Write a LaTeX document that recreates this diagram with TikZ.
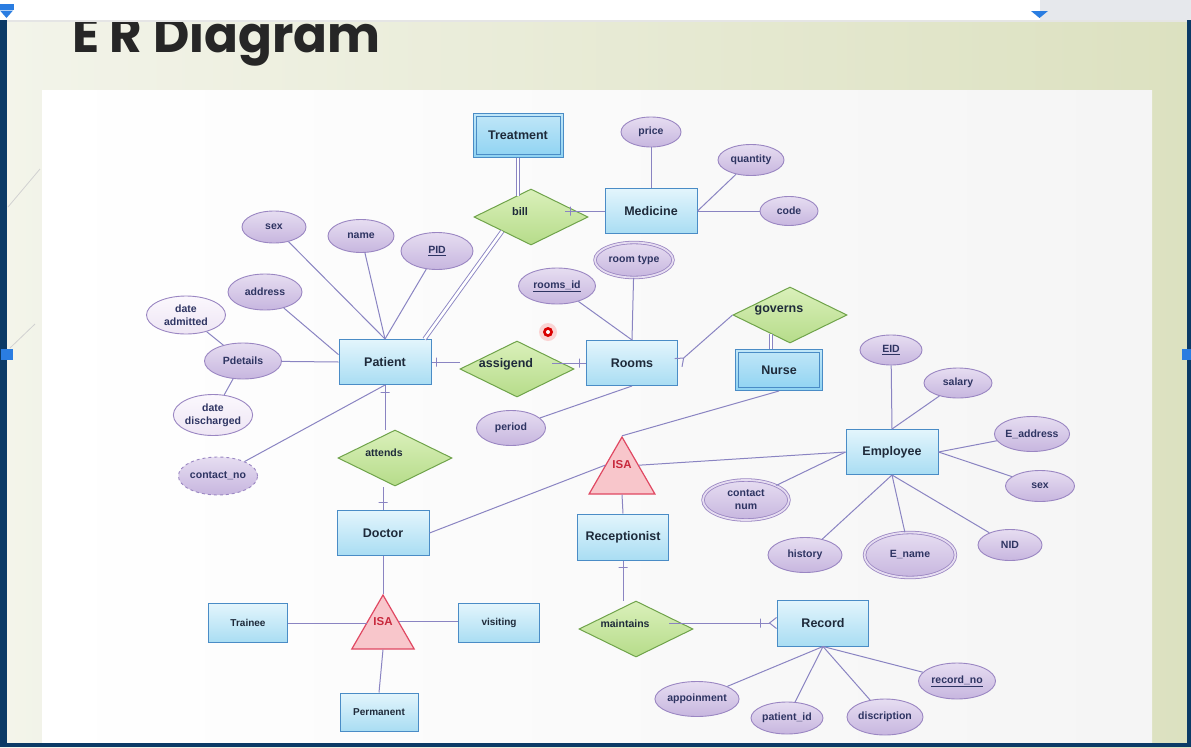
\documentclass[tikz,border=0pt]{standalone}
\usepackage{fontspec}
\setmainfont{Liberation Sans}
\newfontfamily\titlefont{Poppins}
\usetikzlibrary{shapes.geometric,arrows.meta,calc}
\definecolor{slideL}{HTML}{F3F4EA}
\definecolor{slideR}{HTML}{DCE1C0}
\definecolor{navy}{HTML}{0B3A66}
\definecolor{markblue}{HTML}{2A7DE1}
\definecolor{barGray}{HTML}{E6E8EC}
\definecolor{titleink}{HTML}{262626}
\definecolor{enttop}{HTML}{E3F5FC}
\definecolor{entbot}{HTML}{A9DDF3}
\definecolor{entline}{HTML}{4A8CC6}
\definecolor{weakfill}{HTML}{8FD3F2}
\definecolor{reltop}{HTML}{DAF0BA}
\definecolor{relbot}{HTML}{B6DC8A}
\definecolor{relline}{HTML}{6FA34A}
\definecolor{attrtop}{HTML}{E6DDF1}
\definecolor{attrbot}{HTML}{C7B6DF}
\definecolor{attrline}{HTML}{9A86C2}
\definecolor{paletop}{HTML}{FBF8FD}
\definecolor{palebot}{HTML}{EEE5F4}
\definecolor{isafill}{HTML}{F8C6CB}
\definecolor{isaline}{HTML}{E04862}
\definecolor{isatext}{HTML}{C8283C}
\definecolor{linkcol}{HTML}{8A84C2}
\definecolor{inktext}{HTML}{1E2A3A}
\definecolor{attrtext}{HTML}{2E3462}

\begin{document}
\begin{tikzpicture}[x=1pt, y=-1pt,
    entity/.style={rectangle, draw=entline, line width=1pt, top color=enttop, bottom color=entbot, text=inktext, font=\fontsize{12.5}{14}\selectfont\bfseries, minimum width=92pt, minimum height=45pt, inner sep=0pt},
    weak/.style={entity, top color=weakfill!55!white, bottom color=weakfill,
      path picture={\draw[entline, line width=0.9pt] ([shift={(3pt,-3pt)}]path picture bounding box.north west) rectangle ([shift={(-3pt,3pt)}]path picture bounding box.south east);}},
    smallent/.style={entity, font=\fontsize{10}{12}\selectfont\bfseries, minimum width=79pt, minimum height=39pt},
    attr/.style={ellipse, draw=attrline, line width=0.9pt, top color=attrtop, bottom color=attrbot, text=attrtext, font=\fontsize{10.5}{13}\selectfont\bfseries, inner sep=0pt, align=center},
    pale/.style={attr, top color=paletop, bottom color=palebot},
    multi/.style={attr, double=attrtop, double distance=1.8pt, line width=0.8pt},
    derived/.style={attr, dashed},
    rel/.style={diamond, draw=relline, line width=1pt, top color=reltop, bottom color=relbot, minimum width=114pt, minimum height=56pt, inner sep=0pt},
    rellbl/.style={xshift=-11pt, yshift=5pt, text=inktext, font=\fontsize{11}{13}\selectfont\bfseries},
    isa/.style={regular polygon, regular polygon sides=3, draw=isaline, line width=1.2pt, fill=isafill, minimum size=76pt, inner sep=0pt},
    isalbl/.style={yshift=10pt, text=isatext, font=\fontsize{11.5}{13}\selectfont\bfseries},
    link/.style={draw=linkcol, line width=1pt},
    twin/.style={draw=linkcol, line width=0.9pt, double=white, double distance=2.6pt},
    tick/.style={sloped, draw=linkcol, line width=1pt, inner sep=0pt, minimum width=0pt, minimum height=9pt},
    crow/.style={-{Straight Barb[reversed, length=7pt, width=11pt, line width=1pt]}}
  ]
  \useasboundingbox (0,0) rectangle (1191,747);

  % slide and panel
  \shade[left color=slideL, right color=slideR] (0,0) rectangle (1191,747);
  \shade[left color=white, middle color=white, right color=black!4] (42,90) rectangle (1152,745);
  \draw[black!18, line width=0.8pt] (8,207) -- (40,169);
  \draw[black!18, line width=0.8pt] (10,348) -- (35,324);

  % title, partly hidden by the bar
  \node[anchor=base west, inner sep=0pt, text=titleink, font=\titlefont\bfseries\fontsize{50}{58}\selectfont] (title) at (72,52) {E R Diagram};

  % window frame
  \fill[white] (0,0) rectangle (1040,20);
  \fill[barGray] (1040,0) rectangle (1191,20);
  \fill[black!10] (0,20) rectangle (1191,21.5);
  \fill[navy] (0,20) rectangle (6.7,747);
  \fill[navy] (1187,20) rectangle (1191,747);
  \fill[navy] (0,743) rectangle (1191,747);
  \fill[markblue] (0,4) rectangle (14,9.5);
  \fill[markblue] (0,10.5) -- (13,10.5) -- (6.5,18) -- cycle;
  \fill[markblue] (1031,11) -- (1048,11) -- (1039.5,18) -- cycle;
  \fill[markblue] (1.3,349) rectangle (13,360);
  \fill[markblue] (1182,349) rectangle (1191,360);

  % entities
  \node[weak, minimum width=90pt, minimum height=44pt] (treat) at (518,135) {Treatment};
  \node[entity] (med) at (651,211) {Medicine};
  \node[entity] (pat) at (385,362) {Patient};
  \node[entity, minimum width=91pt] (room) at (632,363) {Rooms};
  \node[weak, minimum width=87pt, minimum height=41pt] (nurse) at (779,370) {Nurse};
  \node[entity] (emp) at (892,452) {Employee};
  \node[entity] (doc) at (383,533) {Doctor};
  \node[entity, minimum width=91pt, minimum height=46pt] (recep) at (623,537) {Receptionist};
  \node[smallent] (trainee) at (248,623) {Trainee};
  \node[smallent, minimum width=81pt] (visit) at (499,623) {visiting};
  \node[smallent, minimum width=78pt, minimum height=38pt] (perm) at (379,712) {Permanent};
  \node[entity, minimum width=91pt, minimum height=46pt] (rec) at (823,623) {Record};

  % relationships
  \node[rel, label={[rellbl]center:bill}] (bill) at (531,217) {};
  \node[rel, label={[rellbl, font=\fontsize{12.5}{14}\selectfont\bfseries]center:assigend}] (assign) at (517,369) {};
  \node[rel, label={[rellbl, font=\fontsize{10.5}{12}\selectfont\bfseries]center:attends}] (attend) at (395,458) {};
  \node[rel, label={[rellbl, font=\fontsize{12.5}{14}\selectfont\bfseries]center:governs}] (govern) at (790,315) {};
  \node[rel, label={[rellbl, font=\fontsize{10.5}{12}\selectfont\bfseries]center:maintains}] (maintain) at (636,629) {};

  % specialisations
  \node[isa, label={[isalbl]center:ISA}] (isaA) at (622,475) {};
  \node[isa, minimum size=72pt, label={[isalbl, yshift=-1pt]center:ISA}] (isaB) at (383,631) {};

  % attributes
  \node[attr, minimum width=60pt, minimum height=30pt] (price) at (651,132) {price};
  \node[attr, minimum width=66pt, minimum height=31pt] (qty) at (751,160) {quantity};
  \node[attr, minimum width=58pt, minimum height=29pt] (code) at (789,211) {code};
  \node[multi, minimum width=78pt, minimum height=35pt] (rtype) at (634,260) {room type};
  \node[attr, minimum width=64pt, minimum height=32pt] (psex) at (274,227) {sex};
  \node[attr, minimum width=66pt, minimum height=33pt] (pname) at (361,236) {name};
  \node[attr, minimum width=72pt, minimum height=37pt] (pid) at (437,251) {\underline{PID}};
  \node[attr, minimum width=77pt, minimum height=36pt] (rid) at (557,286) {\underline{rooms\_id}};
  \node[attr, minimum width=74pt, minimum height=36pt] (paddr) at (265,292) {address};
  \node[pale, minimum width=79pt, minimum height=38pt] (dadm) at (186,315) {date\\admitted};
  \node[attr, minimum width=77pt, minimum height=36pt] (pdet) at (243,361) {Pdetails};
  \node[pale, minimum width=79pt, minimum height=41pt] (ddis) at (213,415) {date\\discharged};
  \node[derived, minimum width=79pt, minimum height=38pt] (pcon) at (218,476) {contact\_no};
  \node[attr, minimum width=69pt, minimum height=35pt] (period) at (511,428) {period};
  \node[attr, minimum width=62pt, minimum height=30pt] (eid) at (891,350) {\underline{EID}};
  \node[attr, minimum width=68pt, minimum height=30pt] (salary) at (958,383) {salary};
  \node[attr, minimum width=73pt, minimum height=35pt] (eaddr) at (1032,434) {E\_address};
  \node[attr, minimum width=69pt, minimum height=31pt] (esex) at (1040,486) {sex};
  \node[attr, minimum width=64pt, minimum height=31pt] (nid) at (1010,545) {NID};
  \node[multi, minimum width=91pt, minimum height=45pt] (ename) at (910,555) {E\_name};
  \node[attr, minimum width=74pt, minimum height=35pt] (hist) at (805,555) {history};
  \node[multi, minimum width=86pt, minimum height=40pt] (cnum) at (746,500) {contact\\num};
  \node[attr, minimum width=81pt, minimum height=35pt] (appoin) at (697,699) {appoinment};
  \node[attr, minimum width=72pt, minimum height=32pt] (patid) at (787,718) {patient\_id};
  \node[attr, minimum width=76pt, minimum height=36pt] (discr) at (885,717) {discription};
  \node[attr, minimum width=77pt, minimum height=36pt] (recno) at (957,681) {\underline{record\_no}};

  % attribute links
  \draw[link] (psex) -- (pat.north);
  \draw[link] (pname) -- (pat.north);
  \draw[link] (pid) -- (pat.north);
  \draw[link] (paddr) -- (pat.171);
  \draw[link] (pdet) -- (pat.west);
  \draw[link] (dadm) -- (pdet);
  \draw[link] (ddis) -- (pdet);
  \draw[link] (pcon) -- (pat.south);
  \draw[link] (price) -- (med.north);
  \draw[link] (qty) -- (med.east);
  \draw[link] (code) -- (med.east);
  \draw[link] (rid) -- (room.north);
  \draw[link] (rtype) -- (room.north);
  \draw[link] (period) -- (room.south);
  \draw[link] (eid) -- (emp.north);
  \draw[link] (salary) -- (emp.north);
  \draw[link] (eaddr) -- (emp.east);
  \draw[link] (esex) -- (emp.east);
  \draw[link] (nid) -- (emp.south);
  \draw[link] (ename) -- (emp.south);
  \draw[link] (hist) -- (emp.south);
  \draw[link] (cnum) -- (emp.west);
  \draw[link] (appoin) -- (rec.south);
  \draw[link] (patid) -- (rec.south);
  \draw[link] (discr) -- (rec.south);
  \draw[link] (recno) -- (rec.south);

  % relationship links
  \draw[twin] (treat.south) -- ++(0,38);
  \draw[twin] ([xshift=-7pt]pat.north east) -- (bill.south west);
  \draw[link] (med.west) -- node[tick, pos=0.85] {} ([xshift=-40pt]med.west);
  \draw[link] (pat.east) -- node[tick, pos=0.17] {} (pat.east -| assign.west);
  \draw[link] (room.west) -- node[tick, pos=0.2] {} ([xshift=-34pt]room.west);
  \draw[link] (pat.south) -- node[tick, pos=0.17] {} (pat.south |- attend.north);
  \draw[link] (doc.north) -- node[tick, pos=0.3] {} (doc.north |- attend.south);
  \draw[link, crow] (govern.west) -- (room.east);
  \draw[twin] ([xshift=-8pt]nurse.north) -- ++(0,-15);
  \draw[link] (recep.south) -- node[tick, pos=0.17] {} (recep.south |- maintain.north);
  \draw[link, crow] ([xshift=-108pt]rec.west) -- node[tick, pos=0.85] {} (rec.west);

  % specialisation links
  \draw[link] (nurse.south) -- (isaA.corner 1);
  \draw[link] (isaA.side 3) -- (emp.west);
  \draw[link] (doc.east) -- (isaA.side 1);
  \draw[link] (isaA.side 2) -- (recep.north);
  \draw[link] (doc.south) -- (isaB.corner 1);
  \draw[link] (trainee.east) -- (trainee.east -| isaB.side 1);
  \draw[link] (isaB.side 3 -| visit.west) -- (isaB.side 3);
  \draw[link] (isaB.side 2) -- (perm.north);

  % pointer dot
  \fill[red, opacity=0.15] (548,332) circle (9);
  \fill[red!85!black] (548,332) circle (5);
  \fill[white] (548,332) circle (2);
\end{tikzpicture}
\end{document}
